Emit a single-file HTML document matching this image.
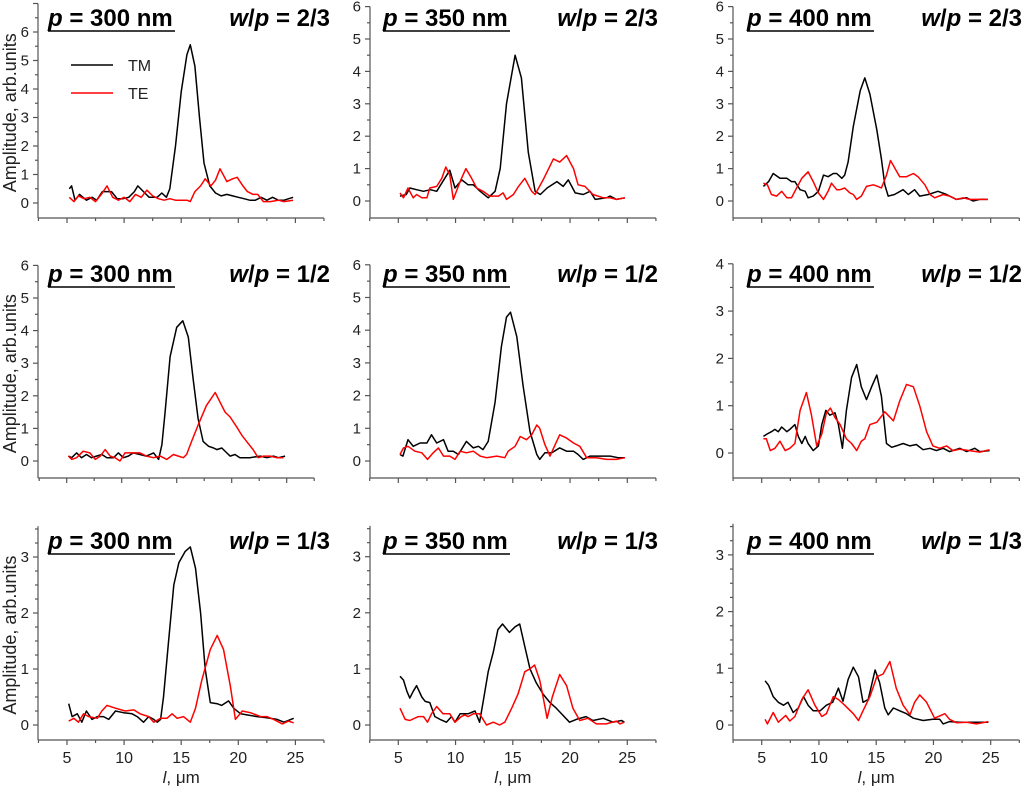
<!DOCTYPE html>
<html><head><meta charset="utf-8"><style>
html,body{margin:0;padding:0;background:#fff;}
svg{display:block;font-family:"Liberation Sans",Arial,sans-serif;}
</style></head><body>
<svg id="fig" width="1024" height="791" viewBox="0 0 1024 791" xmlns="http://www.w3.org/2000/svg"></svg>
<script>
// ---- data: [l (µm), amplitude] ----
const tmA=[[5.2,.5],[5.4,.6],[5.7,.1],[6.1,.3],[6.7,.1],[7.2,.2],[7.6,.1],[8.1,.4],[8.9,.4],[9.4,.15],[9.9,.15],[10.4,.2],[10.9,.4],[11.2,.6],[11.7,.4],[12.2,.2],[12.9,.2],[13.3,.35],[13.7,.2],[14,.5],[14.5,2],[15,3.9],[15.5,5.2],[15.8,5.55],[16.2,4.8],[16.6,3],[17,1.4],[17.5,.6],[18,.35],[18.5,.25],[19,.3],[19.5,.25],[20,.2],[20.5,.15],[21,.1],[21.5,.1],[22,.2],[22.5,.1],[23,.2],[23.5,.1],[24,.1],[24.8,.2]];
const teA=[[5.2,.2],[5.6,.05],[6,.25],[6.5,.15],[7,.2],[7.5,.05],[8,.3],[8.5,.6],[9,.2],[9.5,.1],[10,.2],[10.5,.05],[11,.3],[11.5,.2],[12,.45],[12.5,.25],[13,.15],[13.5,.1],[14,.15],[14.5,.1],[15,.1],[15.5,.1],[15.8,.05],[16.2,.4],[16.7,.6],[17.1,.85],[17.6,.6],[18,.8],[18.4,1.2],[19,.75],[19.5,.85],[19.9,.9],[20.4,.6],[20.8,.4],[21.3,.3],[21.7,.3],[22.2,.05],[22.8,.05],[23.5,.1],[24,.05],[24.8,.1]];
const tmB=[[5.15,.15],[5.7,.2],[6,.4],[6.6,.35],[7.2,.3],[7.8,.35],[8.35,.3],[9.5,.95],[9.95,.4],[10.55,.65],[11.1,.5],[11.55,.5],[12.15,.3],[12.85,.1],[13.45,.3],[13.9,1],[14.45,3],[15.2,4.5],[15.75,3.8],[16.35,1.5],[16.95,.3],[17.4,.2],[18,.4],[18.85,.6],[19.4,.45],[19.85,.65],[20.45,.25],[21.15,.2],[21.75,.3],[22.2,.05],[23.2,.1],[23.5,.15],[24.05,.05],[24.8,.1]];
const teB=[[5.15,.25],[5.45,.1],[5.85,.4],[6.3,.1],[6.6,.2],[7.05,.1],[7.5,.1],[7.75,.4],[8.35,.45],[8.8,.7],[9.15,1.05],[9.5,.8],[9.8,.05],[10.4,.6],[10.9,1],[11.4,.7],[11.85,.4],[12.4,.3],[13,.15],[13.75,.15],[14.15,.25],[14.45,.05],[15.05,.2],[15.5,.45],[16.05,.7],[16.65,.3],[16.95,.2],[17.65,.65],[18.55,1.3],[19.1,1.2],[19.7,1.4],[20.3,1],[20.7,.5],[21.3,.45],[22,.2],[22.9,.1],[23.5,.1],[24.05,.05],[24.8,.1]];
const tmC=[[5.15,.45],[5.6,.6],[6,.85],[6.6,.7],[7.2,.7],[7.6,.6],[7.9,.6],[8.35,.35],[8.8,.3],[9.05,.1],[9.5,.15],[9.95,.3],[10.4,.8],[10.8,.75],[11.25,.85],[11.55,.85],[12,.7],[12.25,.8],[12.55,1.2],[13,2.3],[13.6,3.4],[14,3.8],[14.45,3.3],[15.05,2.2],[15.45,1.3],[15.75,.5],[16.05,.15],[16.6,.2],[17.35,.35],[17.8,.2],[18.35,.35],[18.8,.15],[19.55,.2],[20.4,.3],[21.15,.2],[22,.05],[22.9,.1],[23.45,0],[24.05,.05],[24.75,.05]];
const teC=[[5.15,.55],[5.5,.5],[5.85,.2],[6.3,.15],[6.75,.3],[7.2,.1],[7.6,.1],[8.05,.4],[8.5,.7],[9.05,.9],[9.5,.6],[9.95,.25],[10.4,.05],[10.8,.3],[11.1,.55],[11.55,.35],[11.85,.35],[12.25,.4],[12.7,.25],[13,.2],[13.3,.05],[13.7,.15],[14.15,.45],[14.75,.5],[15.15,.45],[15.45,.4],[15.9,.8],[16.25,1.25],[16.65,1],[17.05,.75],[17.65,.75],[18.25,.85],[18.65,.75],[19.25,.5],[19.7,.2],[20.1,.1],[20.85,.2],[21.4,.15],[22,.05],[22.6,.1],[23.15,.05],[24.05,.05],[24.75,.05]];
const tmD=[[5.15,.15],[5.45,.1],[5.9,.25],[6.35,.1],[6.8,.2],[7.25,.1],[7.7,.15],[8.2,.2],[8.65,.1],[9.25,.1],[9.7,.25],[10.15,.1],[10.6,.15],[11.05,.25],[11.65,.2],[12.25,.15],[12.9,.25],[13.35,.05],[13.65,.5],[13.95,1.5],[14.4,3.2],[15,4.1],[15.55,4.3],[16.05,3.8],[16.5,2.5],[16.95,1.3],[17.4,.6],[17.9,.45],[18.35,.4],[18.65,.35],[19.1,.4],[19.55,.25],[19.85,.15],[20.3,.2],[20.75,.1],[21.65,.1],[22.6,.15],[23.2,.1],[23.8,.15],[24.25,.1],[24.85,.15]];
const teD=[[5.15,.15],[5.45,.05],[5.9,.1],[6.5,.3],[7.1,.25],[7.6,.05],[8.05,.15],[8.5,.35],[8.95,.15],[9.4,.1],[9.85,0],[10.3,.25],[10.9,.25],[11.65,.25],[12.25,.15],[12.9,.1],[13.5,.15],[14.1,.05],[14.7,.2],[15.15,.15],[15.6,.1],[15.9,.2],[16.35,.6],[16.95,1.1],[17.7,1.7],[18.5,2.1],[18.95,1.8],[19.4,1.5],[19.85,1.35],[20.45,1.05],[20.9,.8],[21.35,.6],[21.95,.35],[22.4,.1],[22.9,.15],[23.5,.15],[24.1,.1],[24.7,.1]];
const tmE=[[5.15,.2],[5.4,.15],[5.85,.65],[6.3,.45],[6.9,.55],[7.5,.55],[7.9,.8],[8.35,.55],[8.95,.65],[9.35,.3],[9.8,.3],[10.25,.2],[10.95,.6],[11.55,.4],[12,.45],[12.4,.35],[12.85,.6],[13.45,1.8],[14,3.5],[14.45,4.4],[14.8,4.55],[15.35,3.8],[15.9,2.3],[16.5,.9],[17.1,.2],[17.35,.05],[17.8,.25],[18.4,.25],[19.1,.4],[19.7,.3],[20.3,.3],[20.7,.2],[21.15,.05],[21.75,.15],[22.6,.15],[23.5,.15],[24.2,.1],[24.8,.1]];
const teE=[[5.15,.2],[5.45,.4],[5.85,.45],[6.45,.3],[7.05,.25],[7.55,.05],[8.05,.25],[8.5,.4],[8.95,.15],[9.5,.15],[9.95,.05],[10.4,.3],[10.95,.25],[11.55,.3],[12.15,.15],[12.7,.1],[13.6,.15],[14.3,.1],[14.6,.3],[15.2,.45],[15.65,.75],[16.2,.65],[16.65,.8],[17.1,1.1],[17.35,1],[17.8,.5],[18.25,.15],[18.7,.5],[19.1,.8],[19.7,.7],[20.3,.55],[20.85,.45],[21.45,.1],[22.3,.1],[23.2,.05],[24.05,.05],[24.8,.1]];
const tmF=[[5.15,.35],[5.45,.4],[5.85,.45],[6.15,.5],[6.45,.45],[6.75,.55],[7.2,.45],[7.45,.5],[7.9,.6],[8.2,.35],[8.5,.2],[8.8,.35],[9.05,.2],[9.5,.05],[9.95,.15],[10.25,.6],[10.6,.9],[10.95,.8],[11.4,.85],[11.7,.6],[12.05,.1],[12.4,.9],[12.85,1.6],[13.3,1.87],[13.7,1.4],[14.15,1.13],[14.6,1.4],[15.05,1.65],[15.45,1.2],[15.9,.2],[16.35,.12],[16.75,.15],[17.35,.2],[17.95,.15],[18.5,.18],[19.1,.07],[19.7,.1],[20.25,.05],[20.85,.1],[21.4,.03],[22.3,.1],[22.9,.03],[23.6,.1],[24.05,.03],[24.9,.05]];
const teF=[[5.15,.3],[5.4,.3],[5.75,.05],[6.15,.1],[6.6,.25],[7.05,.05],[7.45,.1],[7.9,.2],[8.35,.9],[8.9,1.28],[9.35,.8],[9.8,.15],[10.25,.4],[10.65,.85],[11,.95],[11.4,.75],[11.85,.6],[12.4,.3],[12.85,.2],[13.3,.05],[13.7,.25],[14,.3],[14.45,.6],[15.05,.65],[15.75,.87],[16.5,.68],[17.05,1.1],[17.65,1.45],[18.25,1.4],[18.8,1],[19.4,.45],[19.95,.15],[20.55,.1],[21.15,.15],[21.7,.05],[22.3,.08],[23.15,.05],[24.05,.02],[24.9,.07]];
const tmG=[[5.15,.38],[5.45,.15],[5.9,.2],[6.3,.05],[6.7,.25],[7.2,.1],[7.65,.15],[8.2,.15],[8.65,.1],[9.25,.25],[9.95,.22],[10.7,.2],[11.15,.15],[11.7,.05],[12.15,.15],[12.6,.1],[12.9,.05],[13.2,.1],[13.45,.5],[13.9,1.5],[14.35,2.5],[14.8,2.9],[15.35,3.1],[15.8,3.18],[16.25,2.8],[16.7,2],[17.1,1],[17.55,.4],[18.15,.38],[18.55,.35],[19.15,.43],[19.6,.3],[20.2,.2],[20.75,.18],[21.65,.15],[22.5,.13],[23.4,.1],[24,.05],[24.85,.12]];
const teG=[[5.15,.07],[5.6,.12],[6,.05],[6.45,.2],[6.9,.15],[7.65,.12],[8.05,.25],[8.5,.35],[9.25,.3],[10.1,.25],[10.85,.27],[11.4,.2],[12.15,.15],[12.6,.05],[13.2,.12],[13.75,.12],[14.2,.2],[14.65,.12],[15.2,.15],[15.8,.05],[16.25,.3],[16.8,.8],[17.55,1.35],[18.15,1.6],[18.7,1.35],[19.3,.7],[19.75,.1],[20.35,.25],[21.05,.22],[21.95,.15],[22.5,.15],[23.1,.1],[23.85,.02],[24.4,.07],[24.85,.04]];
const tmH=[[5.15,.87],[5.45,.8],[5.75,.6],[6,.48],[6.3,.6],[6.6,.7],[7.05,.5],[7.35,.42],[7.75,.4],[8.2,.15],[8.65,.1],[9.2,.05],[9.65,.15],[9.95,.05],[10.4,.2],[11.1,.2],[11.7,.25],[12.1,.05],[12.4,.4],[12.85,.95],[13.3,1.3],[13.7,1.7],[14.1,1.8],[14.7,1.65],[15.2,1.75],[15.6,1.8],[16.05,1.4],[16.5,1],[17.05,.75],[17.65,.55],[18.25,.4],[18.8,.3],[19.25,.2],[19.95,.05],[20.55,.1],[21.4,.15],[22,.08],[22.9,.12],[23.75,.05],[24.5,.08],[24.75,.05]];
const teH=[[5.15,.3],[5.6,.1],[6,.08],[6.75,.15],[7.2,.15],[7.55,.05],[7.9,.2],[8.35,.33],[8.9,.2],[9.5,.2],[9.95,.05],[10.5,.15],[10.8,.18],[11.1,.15],[11.55,.2],[12.1,.2],[12.7,0],[13.3,.05],[13.85,0],[14.3,.05],[14.9,.3],[15.45,.55],[16.05,.95],[16.5,1],[16.9,1.07],[17.35,.8],[17.65,.5],[18,.12],[18.45,.5],[19.1,.9],[19.7,.7],[20.25,.3],[20.85,.08],[21.55,.12],[22.3,.02],[23.15,.02],[24.05,.07],[24.35,.02],[24.75,.05]];
const tmI=[[5.3,.78],[5.6,.7],[6,.5],[6.45,.4],[6.9,.35],[7.3,.4],[7.75,.22],[8.2,.3],[8.65,.5],[9.05,.35],[9.5,.25],[10.1,.25],[10.65,.35],[11.2,.4],[11.7,.65],[12.1,.42],[12.55,.8],[13,1.02],[13.45,.85],[13.85,.4],[14.3,.45],[14.9,.97],[15.3,.75],[15.75,.3],[16.05,.18],[16.5,.3],[17.05,.25],[17.65,.2],[18.25,.12],[19.1,.08],[19.95,.1],[20.55,.1],[20.85,.02],[21.4,.06],[22.3,.05],[23.15,.05],[24.05,.05],[24.8,.05]];
const teI=[[5.3,.1],[5.5,.02],[6,.22],[6.45,.05],[7.1,.17],[7.45,.07],[7.9,.15],[8.5,.45],[9.05,.62],[9.65,.35],[10.25,.15],[10.65,.2],[11.25,.5],[11.7,.45],[12.25,.35],[13,.2],[13.45,.08],[13.85,.25],[14.45,.5],[15.05,.85],[15.6,.9],[16.2,1.12],[16.75,.65],[17.35,.35],[17.95,.18],[18.35,.4],[18.8,.53],[19.4,.4],[20.1,.12],[21,.2],[21.4,.1],[22,.04],[22.9,.05],[23.75,.02],[24.8,.06]];
const xTickLabels=["5","10","15","20","25"];
const periods=["300","350","400"];
const ratios=["2/3","1/2","1/3"];

// ---- layout ----
const NS="http://www.w3.org/2000/svg";
const svg=document.getElementById('fig');
function el(tag,attrs,parent){const e=document.createElementNS(NS,tag);for(const k in attrs)e.setAttribute(k,attrs[k]);(parent||svg).appendChild(e);return e;}
const cols=[{ax:38,x5:67,u:11.42,tr:330},{ax:370,x5:398.3,u:11.45,tr:658},{ax:733,x5:761.7,u:11.45,tr:1022}];
const panels=[
 {r:0,c:0,tm:tmA,te:teA,bot:218,zero:203,v:28.5,ymax:7,ytop:6,minor:.5},
 {r:0,c:1,tm:tmB,te:teB,bot:218,zero:201,v:32.4,ymax:6,ytop:6,minor:.5},
 {r:0,c:2,tm:tmC,te:teC,bot:218,zero:201,v:32.4,ymax:6,ytop:6,minor:.5},
 {r:1,c:0,tm:tmD,te:teD,bot:478,zero:461,v:32.6,ymax:6,ytop:6,minor:.5,x5:66.7,u:11.0},
 {r:1,c:1,tm:tmE,te:teE,bot:478,zero:461,v:32.7,ymax:6,ytop:6,minor:.5},
 {r:1,c:2,tm:tmF,te:teF,bot:478,zero:453,v:47.3,ymax:4,ytop:4,minor:.5},
 {r:2,c:0,tm:tmG,te:teG,bot:740,zero:725,v:56,ymax:3.55,ytop:3,minor:.25},
 {r:2,c:1,tm:tmH,te:teH,bot:740,zero:725,v:56.1,ymax:3.55,ytop:3,minor:.25},
 {r:2,c:2,tm:tmI,te:teI,bot:740,zero:725,v:56.7,ymax:3.55,ytop:3,minor:.25}];
const titleBase=[26,282,549];

panels.forEach((p,i)=>{
  const col=cols[p.c];
  const x5=p.x5||col.x5,u=p.u||col.u;
  const X=l=>x5+(l-5)*u, Y=a=>p.zero-a*p.v;
  const g=el('g',{});
  
  
  const ax=col.ax, right=X(27.5), top=Y(p.ymax);
  const axes=el('g',{stroke:'#555','stroke-width':1.2,fill:'none'},g);
  
  
  el('line',{x1:ax,y1:p.bot,x2:ax,y2:top},axes);
  el('line',{x1:ax,y1:p.bot,x2:right,y2:p.bot},axes);
  for(let l=2.5;l<=27.6;l+=2.5){const mj=(l%5===0);const xx=X(l);if(xx<ax-0.5)continue;el('line',{x1:xx,y1:p.bot,x2:xx,y2:p.bot+(mj?5:3)},axes);}
  for(let a=0;a<=p.ymax+1e-6;a+=p.minor){const mj=Math.abs(a-Math.round(a))<1e-6;el('line',{x1:ax,y1:Y(a),x2:ax-(mj?5:3),y2:Y(a)},axes);}
  for(let a=0;a<=p.ytop;a++){const t=el('text',{x:ax-9,y:Y(a)+5,'text-anchor':'end','font-size':15,fill:'#222'},g);t.textContent=a;
    }
  if(p.r===2){xTickLabels.forEach((s,k)=>{const t=el('text',{x:X(5+5*k),y:763,'text-anchor':'middle','font-size':16,fill:'#222'},g);t.textContent=s;
      });
    const xl=el('text',{x:X(15),y:783,'text-anchor':'middle','font-size':17,fill:'#222'},g);
    xl.innerHTML='<tspan font-style="italic">l</tspan>, \u03bcm';
    }
  if(p.c===0){const cy=(p.bot+top)/2+2;const yl=el('text',{x:0,y:0,transform:`translate(16,${cy}) rotate(-90)`,'text-anchor':'middle','font-size':18,fill:'#222'},g);
    yl.textContent='Amplitude, arb.units';}
  const tx=[48,383,747][p.c], tb=titleBase[p.r];
  const t1=el('text',{x:tx,y:tb,'font-size':24,'font-weight':'bold',fill:'#000'},g);
  t1.innerHTML='<tspan font-style="italic">p</tspan> = '+periods[p.c]+' nm';
  
  const ul=el('line',{x1:tx,y1:tb+5,x2:tx+127,y2:tb+5,stroke:'#000','stroke-width':1.5},g);
  
  const t2=el('text',{x:col.tr,y:tb,'text-anchor':'end','font-size':24,'font-weight':'bold',fill:'#000'},g);
  t2.innerHTML='<tspan font-style="italic">w</tspan>/<tspan font-style="italic">p</tspan> = '+ratios[p.r];
  
  [[p.tm,'#000','tm-curve'],[p.te,'#f00','te-curve']].forEach(([d,c,n])=>{
    const pl=el('polyline',{points:d.map(q=>X(q[0]).toFixed(1)+','+Y(q[1]).toFixed(1)).join(' '),fill:'none',stroke:c,'stroke-width':1.5,'stroke-linejoin':'round'},g);
    
  });
});
// legend
const lg=el('g',{});


el('line',{x1:71,y1:65,x2:113,y2:65,stroke:'#000','stroke-width':1.4},lg);
el('line',{x1:71,y1:93,x2:113,y2:93,stroke:'#f00','stroke-width':1.4},lg);
const l1=el('text',{x:128,y:71,'font-size':16,fill:'#222'},lg);l1.textContent='TM';


const l2=el('text',{x:128,y:99,'font-size':16,fill:'#222'},lg);l2.textContent='TE';


</script>
</body></html>
